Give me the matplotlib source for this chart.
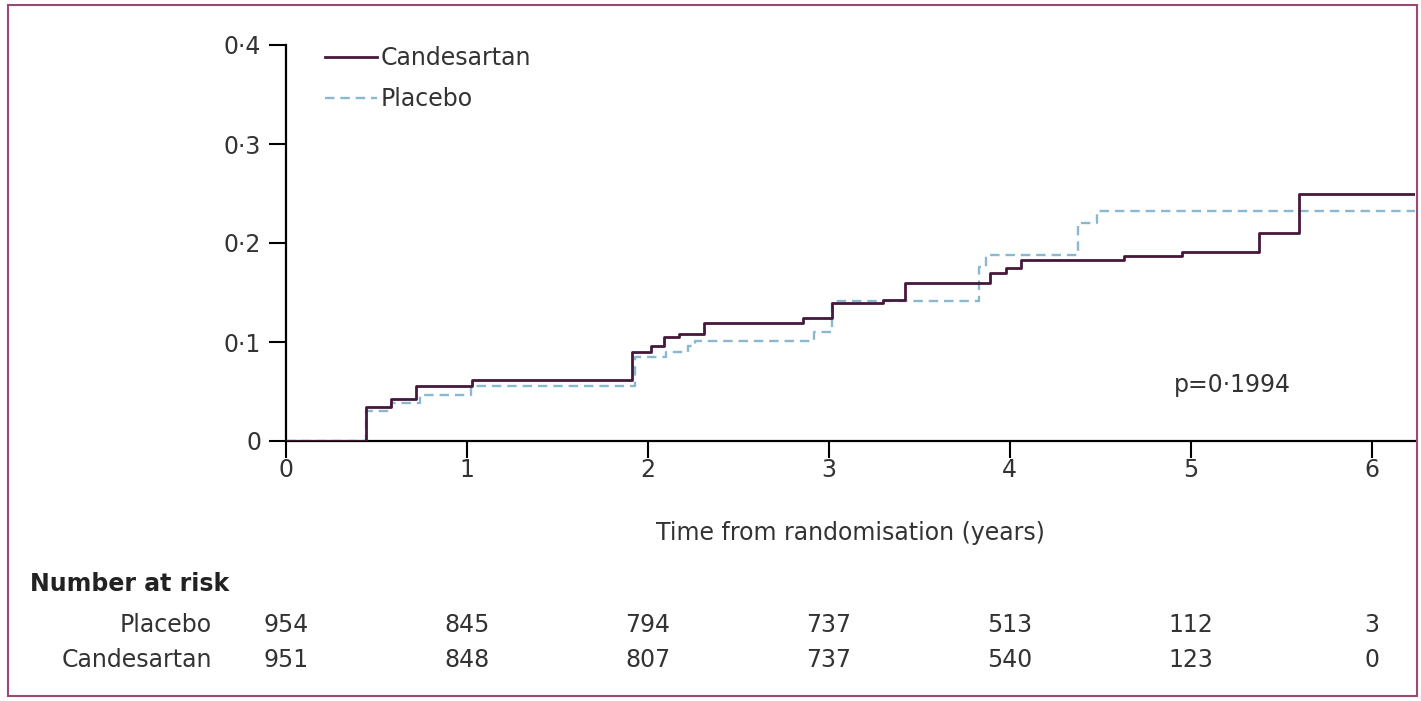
import matplotlib
matplotlib.use("Agg")
import matplotlib.pyplot as plt
from matplotlib.patches import Rectangle
from matplotlib.transforms import blended_transform_factory

plt.rcParams['font.family'] = ['DejaVu Sans']

# cumulative incidence steps (years, proportion)
cand_t = [0, 0.44, 0.58, 0.72, 1.03, 1.91, 2.02, 2.09, 2.17, 2.31, 2.86, 3.02, 3.30, 3.42, 3.89, 3.98, 4.06, 4.63, 4.95, 5.38, 5.60, 6.24]
cand_y = [0, 0.034, 0.042, 0.056, 0.062, 0.090, 0.096, 0.105, 0.108, 0.119, 0.124, 0.139, 0.142, 0.160, 0.170, 0.175, 0.183, 0.187, 0.191, 0.210, 0.250, 0.250]

plac_t = [0, 0.44, 0.58, 0.74, 1.02, 1.93, 2.10, 2.22, 2.26, 2.92, 3.02, 3.83, 3.87, 4.38, 4.48, 6.24]
plac_y = [0, 0.030, 0.038, 0.046, 0.056, 0.085, 0.090, 0.096, 0.101, 0.110, 0.141, 0.176, 0.188, 0.220, 0.232, 0.232]

years = [0, 1, 2, 3, 4, 5, 6]
risk_placebo = [954, 845, 794, 737, 513, 112, 3]
risk_cand = [951, 848, 807, 737, 540, 123, 0]
yticks = [0, 0.1, 0.2, 0.3, 0.4]
ytick_labels = ['0', '0·1', '0·2', '0·3', '0·4']

TXT = '#333333'
C_CAND = '#45173a'
C_PLAC = '#8ab8cf'

fig = plt.figure(figsize=(14.21, 7.01), dpi=100)
ax = fig.add_axes([286 / 1421, 1 - 441 / 701, (1415 - 286) / 1421, (441 - 45) / 701])

ax.step(plac_t, plac_y, where='post', color=C_PLAC, lw=1.7, ls=(0, (4, 2.5)), label='Placebo', zorder=2)
ax.step(cand_t, cand_y, where='post', color=C_CAND, lw=2.0, label='Candesartan', zorder=3)

ax.set_xlim(0, 6.24)
ax.set_ylim(0, 0.4)
ax.set_xticks(years)
ax.set_yticks(yticks)
ax.set_yticklabels(ytick_labels)
for s in ['top', 'right']:
    ax.spines[s].set_visible(False)
for s in ['left', 'bottom']:
    ax.spines[s].set_linewidth(1.6)
ax.tick_params(length=12, width=1.5, labelsize=17, labelcolor=TXT, pad=6)
ax.tick_params(axis='x', pad=0)
ax.set_xlabel("Time from randomisation (years)", fontsize=17, color=TXT, labelpad=28)

handles, labels = ax.get_legend_handles_labels()
ax.legend(handles[::-1], labels[::-1], loc='upper left', bbox_to_anchor=(0.016, 1.05),
          frameon=False, fontsize=17, handlelength=2.2, handletextpad=0.15,
          labelspacing=0.7, labelcolor=TXT)

ax.text(4.91, 0.057, "p=0·1994", fontsize=17, color=TXT, va='center')

# number at risk table
tr = blended_transform_factory(ax.transData, fig.transFigure)
fig.text(30 / 1421, 1 - 584 / 701, "Number at risk", fontsize=17, fontweight='bold', color='#222222', va='center')
fig.text(212 / 1421, 1 - 625 / 701, "Placebo", fontsize=17, color=TXT, va='center', ha='right')
fig.text(212 / 1421, 1 - 660 / 701, "Candesartan", fontsize=17, color=TXT, va='center', ha='right')
for x, a, b in zip(years, risk_placebo, risk_cand):
    ax.text(x, 1 - 625 / 701, str(a), transform=tr, fontsize=17, color=TXT, ha='center', va='center')
    ax.text(x, 1 - 660 / 701, str(b), transform=tr, fontsize=17, color=TXT, ha='center', va='center')

# panel frame
fig.patches.append(Rectangle((8 / 1421, 1 - 696 / 701), (1417 - 8) / 1421, (696 - 5) / 701,
                             transform=fig.transFigure, fill=False, edgecolor='#9c4a74', lw=1.5))

fig.savefig("out.png", dpi=100)
